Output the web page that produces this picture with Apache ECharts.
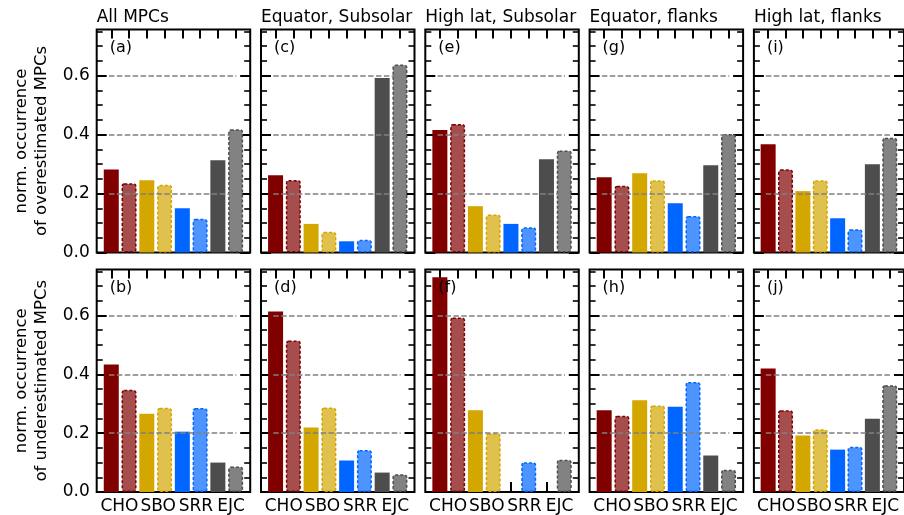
<!DOCTYPE html>
<html>
<head>
<meta charset="utf-8">
<script src="https://cdn.jsdelivr.net/npm/echarts@6/dist/echarts.min.js"></script>
<style>html,body{margin:0;padding:0;background:#fff;}#chart{width:904px;height:515px;}</style>
</head>
<body>
<div id="chart"></div>
<script>
// ---- data ----
const categories = ['CHO', 'SBO', 'SRR', 'EJC'];
const panelTitles = ['All MPCs', 'Equator, Subsolar', 'High lat, Subsolar', 'Equator, flanks', 'High lat, flanks'];
const panelTagsTop = ['(a)', '(c)', '(e)', '(g)', '(i)'];
const panelTagsBottom = ['(b)', '(d)', '(f)', '(h)', '(j)'];
const rowNames = ['norm. occurrence\nof overestimated MPCs', 'norm. occurrence\nof underestimated MPCs'];
const yTickValues = [0, 0.2, 0.4, 0.6];
const yMinorTickValues = [0.05, 0.1, 0.15, 0.25, 0.3, 0.35, 0.45, 0.5, 0.55, 0.65, 0.7, 0.75];
const barPositions = [0, 1, 2, 3, 4, 5, 6, 7];
const labelPositions = [0.46, 2.64, 4.76, 6.74];

// order: CHO, CHO(dashed), SBO, SBO(dashed), SRR, SRR(dashed), EJC, EJC(dashed)
const overAllMPCs          = [0.281, 0.235, 0.245, 0.230, 0.150, 0.114, 0.313, 0.418];
const overEquatorSubsolar  = [0.262, 0.246, 0.097, 0.070, 0.038, 0.043, 0.592, 0.637];
const overHighLatSubsolar  = [0.415, 0.436, 0.157, 0.129, 0.097, 0.086, 0.316, 0.346];
const overEquatorFlanks    = [0.255, 0.226, 0.269, 0.245, 0.167, 0.124, 0.296, 0.402];
const overHighLatFlanks    = [0.367, 0.282, 0.208, 0.245, 0.116, 0.079, 0.299, 0.389];
const underAllMPCs         = [0.433, 0.347, 0.266, 0.286, 0.205, 0.285, 0.100, 0.087];
const underEquatorSubsolar = [0.613, 0.515, 0.219, 0.287, 0.107, 0.143, 0.066, 0.060];
const underHighLatSubsolar = [0.730, 0.593, 0.278, 0.200, 0.000, 0.101, 0.000, 0.110];
const underEquatorFlanks   = [0.278, 0.259, 0.312, 0.294, 0.290, 0.374, 0.124, 0.076];
const underHighLatFlanks   = [0.420, 0.278, 0.192, 0.213, 0.144, 0.154, 0.249, 0.363];

const panelData = [
  [overAllMPCs, overEquatorSubsolar, overHighLatSubsolar, overEquatorFlanks, overHighLatFlanks],
  [underAllMPCs, underEquatorSubsolar, underHighLatSubsolar, underEquatorFlanks, underHighLatFlanks]
];

// ---- styles ----
const solidColors = ['#800000', '#d4a600', '#0066ff', '#4d4d4d'];
const lightColors = ['#a64d4d', '#e1c14d', '#4d94ff', '#828282'];
const FONT = 'DejaVu Sans';
const YMAX = 0.756;
const XMIN = -0.82, XMAX = 7.82;
const gridLeft0 = 96.7, gridStep = 164.3, gridW = 153.5, gridH = 223;
const rowTops = [29.5, 269.5];

const grids = [], xAxes = [], yAxes = [], series = [], titles = [];

for (let r = 0; r < 2; r++) {
  for (let c = 0; c < 5; c++) {
    const p = r * 5 + c;
    const left = gridLeft0 + gridStep * c;
    const top = rowTops[r];
    grids.push({left: left, top: top, width: gridW, height: gridH, show: true,
      borderColor: '#000', borderWidth: 2, backgroundColor: 'transparent'});

    // x axes (bottom with labels, top ticks only)
    xAxes.push({
      gridIndex: p, type: 'value', min: XMIN, max: XMAX, position: 'bottom',
      axisLine: {show: false, onZero: false}, splitLine: {show: false},
      axisTick: {show: true, inside: true, length: 10, customValues: barPositions, lineStyle: {color: '#000', width: 2}},
      axisLabel: {show: r === 1, customValues: labelPositions, margin: 6,
        showMinLabel: true, showMaxLabel: true, hideOverlap: false,
        formatter: v => {
          let best = 0;
          labelPositions.forEach((lp, i) => { if (Math.abs(lp - v) < Math.abs(labelPositions[best] - v)) best = i; });
          return categories[best];
        },
        fontSize: 17, fontFamily: FONT, color: '#000'}
    });
    xAxes.push({
      gridIndex: p, type: 'value', min: XMIN, max: XMAX, position: 'top',
      axisLine: {show: false, onZero: false}, splitLine: {show: false},
      axisTick: {show: true, inside: true, length: 9, customValues: barPositions, lineStyle: {color: '#000', width: 2}},
      axisLabel: {show: false}
    });

    // y axes: left major/minor, right major/minor
    ['left', 'right'].forEach(pos => {
      yAxes.push({
        gridIndex: p, type: 'value', min: 0, max: YMAX, position: pos,
        axisLine: {show: false, onZero: false}, splitLine: {show: false},
        axisTick: {show: true, inside: true, length: 10, customValues: yTickValues, lineStyle: {color: '#000', width: 2}},
        axisLabel: {show: pos === 'left' && c === 0, customValues: yTickValues, margin: 7,
          showMinLabel: true, showMaxLabel: true,
          formatter: v => v.toFixed(1), fontSize: 17, fontFamily: FONT, color: '#000'},
        name: (pos === 'left' && c === 0) ? rowNames[r] : '',
        nameLocation: 'middle', nameRotate: 90, nameGap: 45,
        nameTextStyle: {fontSize: 16.5, lineHeight: 20, fontFamily: FONT, color: '#000'}
      });
      yAxes.push({
        gridIndex: p, type: 'value', min: 0, max: YMAX, position: pos,
        axisLine: {show: false, onZero: false}, splitLine: {show: false},
        axisTick: {show: true, inside: true, length: 6, customValues: yMinorTickValues, lineStyle: {color: '#000', width: 1.6}},
        axisLabel: {show: false}
      });
    });

    const vals = panelData[r][c];
    const items = vals.map((v, i) => {
      const k = Math.floor(i / 2);
      const dashed = i % 2 === 1;
      return {
        value: [barPositions[i], v],
        itemStyle: dashed
          ? {color: lightColors[k], borderColor: solidColors[k], borderWidth: 1.5, borderType: [3, 2], borderRadius: 2}
          : {color: solidColors[k], borderWidth: 0}
      };
    });
    series.push({
      type: 'bar', xAxisIndex: 2 * p, yAxisIndex: 4 * p, barWidth: 15,
      data: items, silent: true,
      markLine: {
        symbol: 'none', silent: true, label: {show: false},
        lineStyle: {color: '#808080', type: [5.5, 2.4], width: 1.5},
        data: yTickValues.slice(1).map(t => [{coord: [-0.13, t]}, {coord: [7.04, t]}])
      },
      z: 2
    });

    if (r === 0) {
      titles.push({text: panelTitles[c], left: left, top: 9, padding: 0,
        textStyle: {fontSize: 17, fontWeight: 'normal', fontFamily: FONT, color: '#000'}});
    }
    titles.push({text: (r === 0 ? panelTagsTop : panelTagsBottom)[c], left: left + 13, top: top + 10.5, padding: 0,
      textStyle: {fontSize: 16, fontWeight: 'normal', fontFamily: FONT, color: '#000'}});
  }
}

const chart = echarts.init(document.getElementById('chart'), null, {renderer: 'canvas'});
chart.setOption({
  animation: false,
  backgroundColor: '#fff',
  title: titles,
  grid: grids,
  xAxis: xAxes,
  yAxis: yAxes,
  series: series
});
</script>
</body>
</html>
